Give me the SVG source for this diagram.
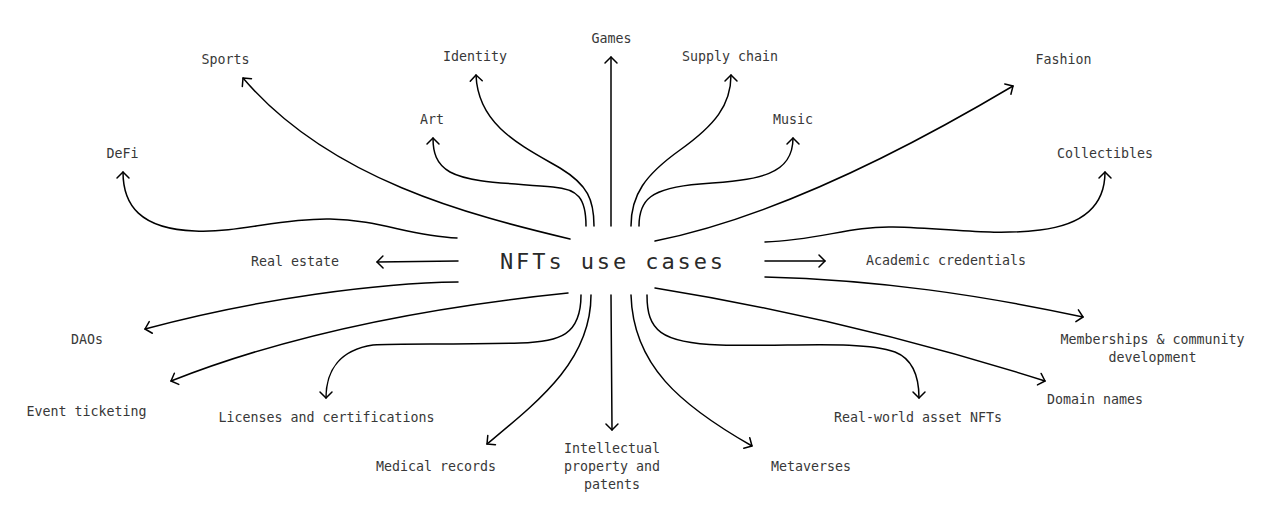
<svg xmlns="http://www.w3.org/2000/svg" width="1280" height="518" viewBox="0 0 1280 518">
<style>
.lbl{font-family:"DejaVu Sans Mono","Liberation Mono",monospace;font-size:13.3px;fill:#383838;text-anchor:middle}
.title{font-family:"DejaVu Sans Mono","Liberation Mono",monospace;font-size:22px;fill:#2a2a2a;text-anchor:middle;letter-spacing:2.9px}
.c{fill:none;stroke:#000;stroke-width:1.5;stroke-linecap:round;marker-end:url(#ah)}
</style>
<defs>
<marker id="ah" markerUnits="userSpaceOnUse" orient="auto" markerWidth="20" markerHeight="20" viewBox="-10 -10 20 20" refX="0" refY="0" overflow="visible">
<path d="M-6,-6 L0,0 L-6,6" fill="none" stroke="#000" stroke-width="1.5" stroke-linecap="round" stroke-linejoin="round"/>
</marker>
</defs>
<rect width="1280" height="518" fill="#fff"/>
<g id="connectors">
<path class="c" d="M570,239 C470,215 330,180 243,78"/>
<path class="c" d="M457,238 C410,236 380,220 330,219 C280,218 240,233 195,231 C140,229 123,205 123,172"/>
<path class="c" d="M586,226 C586,198 578,189 553,187 C510,183 470,183 450,172 C436,164 433,152 433,138"/>
<path class="c" d="M594,226 C594,200 588,185 560,168 C520,145 478,125 476,75"/>
<path class="c" d="M611,226 L611,57"/>
<path class="c" d="M631,226 C631,195 645,175 680,150 C715,125 731,105 731,75"/>
<path class="c" d="M639,226 C639,200 650,188 700,184 C760,180 793,175 793,138"/>
<path class="c" d="M655,241 C760,220 880,165 1013,86"/>
<path class="c" d="M765,242 C820,240 850,226 893,227 C950,228 990,236 1040,230 C1090,224 1105,200 1105,172"/>
<path class="c" d="M765,261 L825,261"/>
<path class="c" d="M765,277 C880,280 980,295 1083,317"/>
<path class="c" d="M655,288 C760,305 900,335 1045,381"/>
<path class="c" d="M647,295 C647,330 660,343 720,345 C790,347 860,340 895,352 C915,360 919,380 919,398"/>
<path class="c" d="M631,295 C633,365 680,405 752,446"/>
<path class="c" d="M611,295 L612,430"/>
<path class="c" d="M591,295 C591,360 540,400 487,444"/>
<path class="c" d="M581,295 C581,335 560,342 520,343 C450,345 400,343 373,345 C340,350 326,370 326,398"/>
<path class="c" d="M568,293 C450,305 300,330 171,381"/>
<path class="c" d="M458,282 C380,283 260,298 145,329"/>
<path class="c" d="M458,261 L377,262"/>
</g>
<g id="center"><text class="title" x="613" y="269">NFTs use cases</text></g>
<g id="sports"><text class="lbl" x="225.5" y="64">Sports</text></g>
<g id="identity"><text class="lbl" x="475" y="61">Identity</text></g>
<g id="games"><text class="lbl" x="611.5" y="43">Games</text></g>
<g id="supply-chain"><text class="lbl" x="730" y="61">Supply chain</text></g>
<g id="fashion"><text class="lbl" x="1063.5" y="64">Fashion</text></g>
<g id="art"><text class="lbl" x="432" y="124">Art</text></g>
<g id="music"><text class="lbl" x="793" y="124">Music</text></g>
<g id="defi"><text class="lbl" x="122.5" y="158">DeFi</text></g>
<g id="collectibles"><text class="lbl" x="1105" y="158">Collectibles</text></g>
<g id="real-estate"><text class="lbl" x="295" y="266">Real estate</text></g>
<g id="academic"><text class="lbl" x="946" y="265">Academic credentials</text></g>
<g id="daos"><text class="lbl" x="87" y="344">DAOs</text></g>
<g id="memberships"><text class="lbl" x="1152.5" y="344">Memberships &amp; community</text><text class="lbl" x="1152.5" y="362">development</text></g>
<g id="event-ticketing"><text class="lbl" x="86.5" y="416">Event ticketing</text></g>
<g id="licenses"><text class="lbl" x="326.5" y="422">Licenses and certifications</text></g>
<g id="domain-names"><text class="lbl" x="1095" y="404">Domain names</text></g>
<g id="real-world"><text class="lbl" x="918" y="422">Real-world asset NFTs</text></g>
<g id="medical"><text class="lbl" x="436" y="471">Medical records</text></g>
<g id="ip"><text class="lbl" x="612" y="453">Intellectual</text><text class="lbl" x="612" y="471">property and</text><text class="lbl" x="612" y="489">patents</text></g>
<g id="metaverses"><text class="lbl" x="811" y="471">Metaverses</text></g>
</svg>
